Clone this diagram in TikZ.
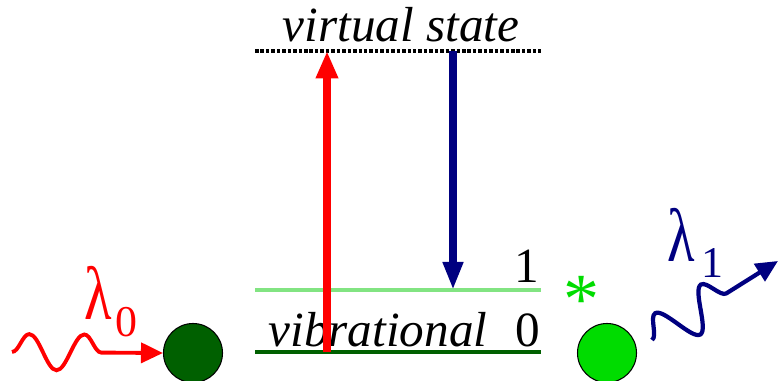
\documentclass[tikz,border=0pt]{standalone}
\usepackage{fontspec}
\setmainfont{Liberation Serif}
\usetikzlibrary{arrows.meta,decorations.pathmorphing}
\definecolor{darkgreen}{RGB}{0,96,0}
\definecolor{brightgreen}{RGB}{0,220,0}
\definecolor{palegreen}{RGB}{130,228,130}
\definecolor{navyblue}{RGB}{0,0,128}

\begin{document}
\begin{tikzpicture}[
	level/.style={line width=2.3pt},
	bigarrow/.style={line width=4.5pt,-{Triangle[length=0.55cm,width=0.42cm]}},
	wavy/.style={line width=2.2pt,decorate,decoration={snake,amplitude=0.36cm,segment length=1.1cm,post length=0.86cm},-{Triangle[length=0.44cm,width=0.4cm]}},
	atom/.style={circle,draw=black,line width=0.6pt,minimum size=1.18cm,inner sep=0pt},
	txt/.style={anchor=base,inner sep=0pt,font=\fontsize{28}{30}\selectfont\itshape},
	digit/.style={anchor=base,inner sep=0pt,font=\fontsize{28}{30}\selectfont}
]
	\useasboundingbox (0,0) rectangle (15.58,7.62);
	% energy levels
	\draw[level,black,line width=2.2pt,dash pattern=on 2pt off 1.1pt] (5.10,6.60) -- (10.82,6.60);
	\draw[level,palegreen,line width=2pt] (5.10,1.82) -- (10.82,1.82);
	\draw[level,darkgreen] (5.10,0.58) -- (10.82,0.58);
	\node[txt] (virt) at (8.02,6.78) {virtual state};
	\node[txt] (vib) at (7.56,0.68) {vibrational};
	\node[digit] (one) at (10.54,1.96) {1};
	\node[digit] (zero) at (10.56,0.68) {0};
	% transitions
	\coordinate (pumpfoot) at (6.54,0.58);
	\coordinate (pumptop) at (6.54,6.60);
	\coordinate (emittop) at (9.06,6.60);
	\coordinate (emitfoot) at (9.06,1.82);
	\draw[bigarrow,red] (pumpfoot) -- (pumptop);
	\draw[bigarrow,navyblue,-{Triangle[length=0.56cm,width=0.38cm]}] (emittop) -- (emitfoot);
	% molecules
	\node[atom,fill=darkgreen] (ground) at (3.86,0.56) {};
	\node[atom,fill=brightgreen] (excited) at (12.14,0.56) {};
	\node[anchor=base,inner sep=0pt,brightgreen,font=\fontsize{41}{41}\selectfont] (star) at (11.64,1.14) {*};
	% photons
	\coordinate (inlight) at (0.24,0.58);
	\coordinate (outlight) at (13.04,0.82);
	\coordinate (outend) at (15.56,2.40);
	\draw[wavy,red] (inlight) -- (ground.west);
	\draw[wavy,navyblue,line width=2.4pt,decoration={snake,amplitude=0.42cm,segment length=1.08cm,post length=0.8cm}] (outlight) -- (outend);
	\node[anchor=base west,inner sep=0pt,red] (lamzero) at (1.68,1.22)
		{\fontsize{43}{43}\selectfont\scalebox{0.75}[1]{λ}\kern2pt\fontsize{25}{25}\selectfont\raisebox{-9.5pt}{0}};
	\node[anchor=base west,inner sep=0pt,navyblue] (lamone) at (13.34,2.38)
		{\fontsize{43}{43}\selectfont\scalebox{0.75}[1]{λ}\kern4pt\fontsize{25}{25}\selectfont\raisebox{-9pt}{1}};
\end{tikzpicture}
\end{document}
